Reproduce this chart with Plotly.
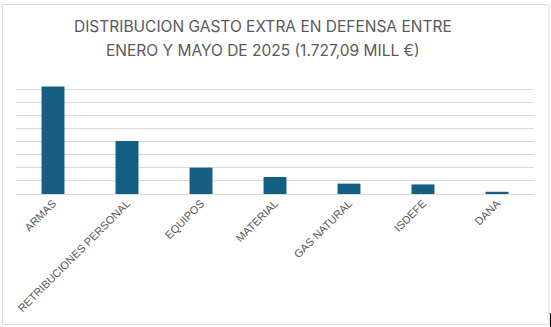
import plotly.graph_objects as go

# Extra defence spending, January-May 2025 (million €)
categories = ["ARMAS", "RETRIBUCIONES PERSONAL", "EQUIPOS", "MATERIAL",
              "GAS NATURAL", "ISDEFE", "DANA"]
amounts = [820, 404, 201, 130, 79, 73, 17]

title_lines = ["DISTRIBUCION GASTO EXTRA EN DEFENSA ENTRE",
               "ENERO Y MAYO DE 2025 (1.727,09 MILL €)"]

W, H = 551, 327
ML, MR, MT, MB = 16, 17, 76, 133
PW, PH = W - ML - MR, H - MT - MB
BAR = "#156082"
GRID = "#d9d9d9"
TEXT = "#595959"


def px(x):
    """Pixel column -> paper x (paper spans the plot area)."""
    return (x - ML) / PW


def py(y):
    """Pixel row -> paper y."""
    return 1 - (y - MT) / PH


fig = go.Figure(go.Bar(
    x=categories, y=amounts,
    marker=dict(color=BAR, line=dict(width=0)),
    hoverinfo="x+y",
))

fig.update_layout(
    width=W, height=H,
    margin=dict(l=ML, r=MR, t=MT, b=MB, pad=0),
    paper_bgcolor="white", plot_bgcolor="white",
    bargap=0.69,
    showlegend=False,
    xaxis=dict(
        tickangle=-45,
        tickfont=dict(family="Liberation Sans, Arial, sans-serif", size=11, color=TEXT),
        showgrid=False, showline=False, ticks="",
        automargin=False,
    ),
    yaxis=dict(
        range=[0, 900], dtick=100,
        showgrid=True, gridcolor=GRID, gridwidth=1,
        showticklabels=False, zeroline=True, zerolinecolor=GRID, zerolinewidth=1,
        automargin=False,
    ),
    shapes=[
        dict(type="rect", xref="paper", yref="paper",
             x0=px(2.5), x1=px(549), y0=py(324.5), y1=py(4.5),
             line=dict(color=GRID, width=1), fillcolor="rgba(0,0,0,0)", layer="below"),
        dict(type="rect", xref="paper", yref="paper",
             x0=px(550), x1=px(551.5), y0=py(327.5), y1=py(313),
             line=dict(width=0), fillcolor="black"),
    ],
)

for i, line in enumerate(title_lines):
    fig.add_annotation(
        text=line, xref="paper", yref="paper",
        x=px(263), y=py(26.5 + 24 * i),
        xanchor="center", yanchor="middle", showarrow=False,
        font=dict(family="Inter, Noto Sans, sans-serif", size=15.5, color=TEXT),
    )

fig.write_html("out.html")
